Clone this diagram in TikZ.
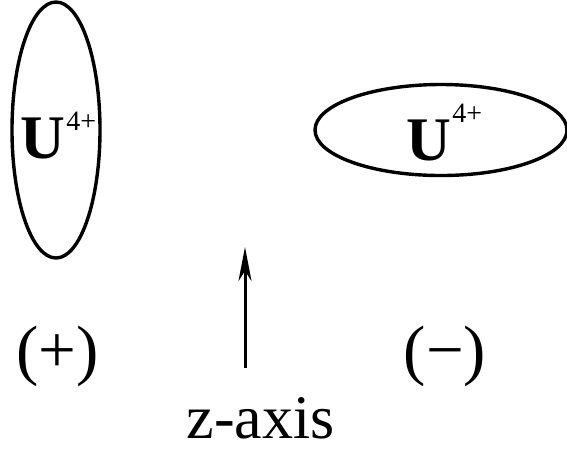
\documentclass[tikz,border=0pt]{standalone}
\usepackage{fontspec}
\setmainfont{Liberation Serif}
\usetikzlibrary{shapes.geometric,arrows.meta}
\begin{document}
\begin{tikzpicture}[x=1pt,y=-1pt,
  orbital/.style={ellipse,draw,line width=3.4pt,inner sep=0pt,outer sep=0pt},
  ubig/.style={inner sep=0pt,anchor=base west,font=\fontsize{62}{62}\selectfont\bfseries},
  usup/.style={inner sep=0pt,anchor=base west,font=\fontsize{28}{28}\selectfont},
  sign/.style={inner sep=0pt,anchor=base,font=\fontsize{67}{67}\selectfont},
  axislbl/.style={inner sep=0pt,anchor=base,font=\fontsize{62}{62}\selectfont}]
\useasboundingbox (0,0) rectangle (567,451);
% orbitals
\node[orbital,minimum width=88pt,minimum height=256pt] (e1) at (56,130) {};
\node[orbital,minimum width=252pt,minimum height=91pt] (e2) at (441,130) {};
% labels
\node[ubig] (u1) at (20,158) {U};
\node[usup] (s1) at (u1.base east) [xshift=1pt,yshift=28pt] {4+};
\node[ubig] (u2) at (406,160) {U};
\node[usup] (s2) at (u2.base east) [xshift=1pt,yshift=38pt] {4+};
% axis arrow
\coordinate (zb) at (245,368);
\coordinate (zt) at (245,247);
\draw[line width=3pt,-{Stealth[length=34pt,width=13pt,inset=10pt]}] (zb) -- (zt);
% signs
\node[sign] (plus) at (57.5,372) {(+)};
\node[sign] (minus) at (445,372) {(−)};
\node[axislbl] (zlabel) at (260.5,438) {z-axis};
\end{tikzpicture}
\end{document}
